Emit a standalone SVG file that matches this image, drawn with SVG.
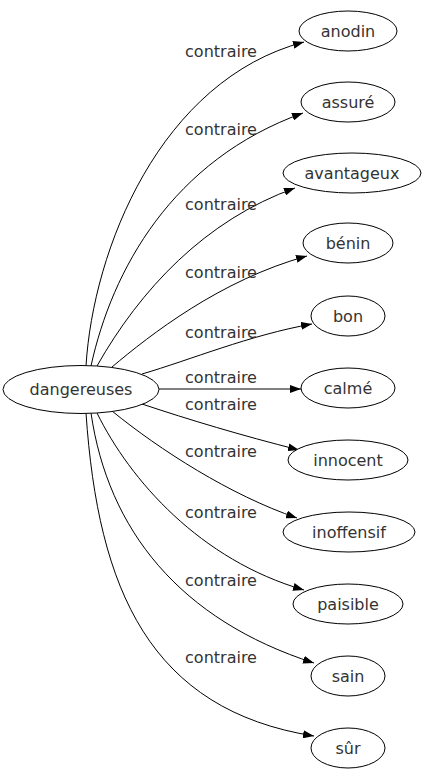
<svg xmlns="http://www.w3.org/2000/svg" width="427" height="779" viewBox="0 0 427 779">
<style>
.n ellipse{fill:#fff;stroke:#000;stroke-width:1}
text{font-family:"DejaVu Sans",sans-serif;font-size:16px;fill:#333;text-anchor:middle}
.e path{fill:none;stroke:#000;stroke-width:1}
</style>
<defs>
<marker id="a" viewBox="0 0 11 8" refX="11" refY="4" markerWidth="11" markerHeight="8" markerUnits="userSpaceOnUse" orient="auto">
<path d="M0,0 L11,4 L0,8 Z" fill="#000"/>
</marker>
</defs>
<rect width="427" height="779" fill="#fff"/>
<g class="e" id="edges">
<path d="M86,366 C93,250 160,80 304,42" marker-end="url(#a)"/>
<path d="M91,366 C112,270 172,160 303,113" marker-end="url(#a)"/>
<path d="M97,366 C140,290 205,220 295,188" marker-end="url(#a)"/>
<path d="M112,367 C150,335 220,280 307,256" marker-end="url(#a)"/>
<path d="M142,374 C190,360 250,335 312,324" marker-end="url(#a)"/>
<path d="M159,389 L301,389" marker-end="url(#a)"/>
<path d="M142,404 C190,420 240,435 299,450" marker-end="url(#a)"/>
<path d="M112,411 C160,450 230,495 297,518" marker-end="url(#a)"/>
<path d="M97,413 C130,480 200,560 304,590" marker-end="url(#a)"/>
<path d="M91,413 C108,530 180,620 314,663" marker-end="url(#a)"/>
<path d="M86,413 C98,590 150,710 314,736" marker-end="url(#a)"/>
<text x="221" y="57">contraire</text>
<text x="221" y="135">contraire</text>
<text x="221" y="210">contraire</text>
<text x="221" y="278">contraire</text>
<text x="221" y="338">contraire</text>
<text x="221" y="383">contraire</text>
<text x="221" y="410">contraire</text>
<text x="221" y="457">contraire</text>
<text x="221" y="518">contraire</text>
<text x="221" y="586">contraire</text>
<text x="221" y="663">contraire</text>
</g>
<g class="n" id="dangereuses"><ellipse cx="81" cy="389.5" rx="78" ry="24"/><text x="81" y="395">dangereuses</text></g>
<g class="n" id="anodin"><ellipse cx="348" cy="31" rx="49" ry="20"/><text x="348" y="37">anodin</text></g>
<g class="n" id="assure"><ellipse cx="348" cy="102" rx="47" ry="20"/><text x="348" y="108">assuré</text></g>
<g class="n" id="avantageux"><ellipse cx="352" cy="173" rx="69" ry="20"/><text x="352" y="179">avantageux</text></g>
<g class="n" id="benin"><ellipse cx="348" cy="243" rx="45" ry="20"/><text x="348" y="249">bénin</text></g>
<g class="n" id="bon"><ellipse cx="348" cy="316" rx="37" ry="20"/><text x="348" y="322">bon</text></g>
<g class="n" id="calme"><ellipse cx="348" cy="388" rx="47" ry="20"/><text x="348" y="394">calmé</text></g>
<g class="n" id="innocent"><ellipse cx="348" cy="460" rx="60" ry="20"/><text x="348" y="466">innocent</text></g>
<g class="n" id="inoffensif"><ellipse cx="349" cy="532" rx="66" ry="20"/><text x="349" y="538">inoffensif</text></g>
<g class="n" id="paisible"><ellipse cx="348" cy="604" rx="55" ry="20"/><text x="348" y="610">paisible</text></g>
<g class="n" id="sain"><ellipse cx="348" cy="676" rx="37" ry="20"/><text x="348" y="682">sain</text></g>
<g class="n" id="sur"><ellipse cx="348" cy="748" rx="37" ry="20"/><text x="348" y="754">sûr</text></g>
</svg>
